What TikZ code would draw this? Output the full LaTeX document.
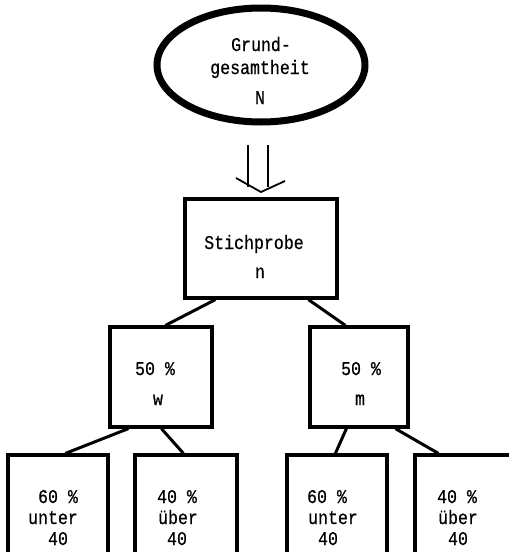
\documentclass[tikz,border=0pt]{standalone}
\usepackage{fontspec}
\newfontfamily\typew[FakeStretch=0.85,FakeBold=0.6]{Liberation Mono}
\usetikzlibrary{shapes.geometric,calc}
\tikzset{
  boxnode/.style={draw, line width=3.2pt, rectangle, inner sep=0pt},
  txt/.style={font=\typew\fontsize{19.5}{22}\selectfont, anchor=base, inner sep=0pt},
  conn/.style={line width=3pt},
  arr/.style={line width=1.8pt},
}
\begin{document}
\begin{tikzpicture}[x=1pt,y=-1pt]
\useasboundingbox (0,0) rectangle (509,552);
\clip (0,0) rectangle (509,552);
% ellipse
\node[draw, ellipse, line width=7pt, minimum width=208pt, minimum height=114pt, inner sep=0pt] (ell) at (261,65) {};
\node[txt] (t1) at (261,51) {Grund-};
\node[txt] (t2) at (260,74) {gesamtheit};
\node[txt] (t3) at (260,104) {N};
% sample box
\node[boxnode, minimum width=152pt, minimum height=99pt] (st) at (261,248.5) {};
\node[txt] (t4) at (254,249) {Stichprobe};
\node[txt] (t5) at (260,278) {n};
% double arrow
\coordinate (a1) at (248,145);
\coordinate (a2) at (248,187);
\coordinate (a3) at (268,145);
\coordinate (a4) at (268,187);
\coordinate (h1) at (236,178);
\coordinate (h2) at (261,192);
\coordinate (h3) at (285,181);
\draw[arr] (a1) -- (a2);
\draw[arr] (a3) -- (a4);
\draw[arr, line join=round] (h1) -- (h2) -- (h3);
% second level
\node[boxnode, minimum width=102pt, minimum height=100pt] (w) at (161,377) {};
\node[boxnode, minimum width=98pt, minimum height=100pt] (m) at (359,377) {};
\node[txt] (t6) at (155,375) {50 \%};
\node[txt] (t7) at (158,405) {w};
\node[txt] (t8) at (361,375) {50 \%};
\node[txt] (t9) at (360,405) {m};
\draw[conn] ($(st.south west)+(32,0)$) -- ($(w.north west)+(57,0)$);
\draw[conn] ($(st.south west)+(125,0)$) -- ($(m.north west)+(37,0)$);
% third level
\node[boxnode, minimum width=100pt, minimum height=150pt] (b1) at (58,530) {};
\node[boxnode, minimum width=102pt, minimum height=150pt] (b2) at (186,530) {};
\node[boxnode, minimum width=100pt, minimum height=150pt] (b3) at (337,530) {};
\node[boxnode, minimum width=102pt, minimum height=150pt] (b4) at (466,530) {};
\draw[conn] ($(w.south west)+(20,0)$) -- ($(b1.north west)+(59,0)$);
\draw[conn] ($(w.south west)+(53,0)$) -- ($(b2.north west)+(50,0)$);
\draw[conn] ($(m.south west)+(38,0)$) -- ($(b3.north west)+(50,0)$);
\draw[conn] ($(m.south west)+(87,0)$) -- ($(b4.north west)+(25,0)$);
\node[txt] (u1) at (58,503) {60 \%};
\node[txt] (u2) at (53,524) {unter};
\node[txt] (u3) at (58,545) {40};
\node[txt] (u4) at (177,503) {40 \%};
\node[txt] (u5) at (178,524) {über};
\node[txt] (u6) at (177,545) {40};
\node[txt] (u7) at (327,503) {60 \%};
\node[txt] (u8) at (333,524) {unter};
\node[txt] (u9) at (328,545) {40};
\node[txt] (u10) at (457,503) {40 \%};
\node[txt] (u11) at (458,524) {über};
\node[txt] (u12) at (458,545) {40};
\end{tikzpicture}
\end{document}
